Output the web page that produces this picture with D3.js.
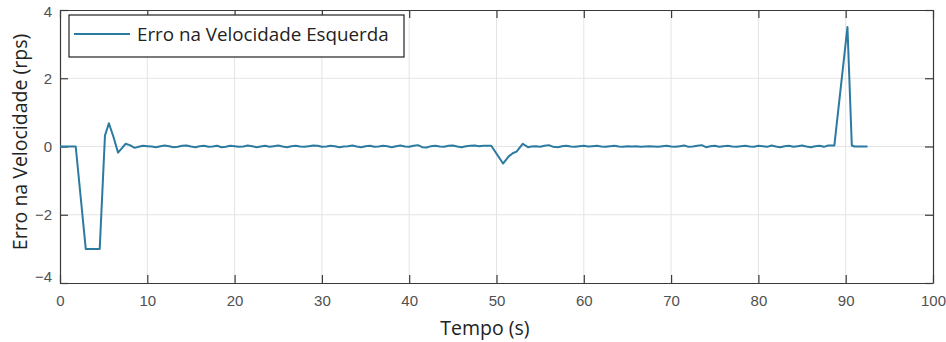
<!DOCTYPE html>
<html>
<head>
<meta charset="utf-8">
<script src="https://cdn.jsdelivr.net/npm/d3@7"></script>
<style>
  html, body { margin: 0; padding: 0; background: #fff; }
  svg { display: block; }
</style>
</head>
<body>
<svg id="chart" width="946" height="342"></svg>
<script>
// Sampled error of the left wheel speed: [time (s), error (rps)]
const amostras = [
  [0,0],[0.5,0],[1,0],[1.5,0],[1.8,0],[2.95,-3],[3.5,-3],[4,-3],[4.55,-3],
  [5.15,0.32],[5.6,0.68],[6.1,0.3],[6.65,-0.18],[7.1,-0.05],[7.5,0.08],[8,0.04],
  [8.55,-0.04],[9,-0.01],[9.5,0.02],
  [10,0.01],[10.5,0],[11,-0.02],[11.5,0.01],[12,0.03],[12.5,0.01],[13,-0.02],[13.5,-0.01],
  [14,0.02],[14.5,0.03],[15,0],[15.5,-0.02],[16,0.01],[16.5,0.02],[17,-0.01],[17.5,0],
  [18,0.02],[18.5,-0.02],[19,-0.01],[19.5,0.02],[20,0.01],[20.5,-0.01],[21,0],[21.5,0.03],
  [22,0.01],[22.5,-0.02],[23,0],[23.5,0.02],[24,-0.01],[24.5,0.01],[25,0.03],[25.5,0],
  [26,-0.02],[26.5,0.01],[27,0.02],[27.5,0],[28,-0.01],[28.5,0.01],[29,0.03],[29.5,0.02],
  [30,-0.01],[30.5,0],[31,0.02],[31.5,0.01],[32,-0.02],[32.5,0],[33,0.01],[33.5,0.03],
  [34,0],[34.5,-0.02],[35,0.01],[35.5,0.02],[36,-0.01],[36.5,0],[37,0.02],[37.5,0.01],
  [38,-0.02],[38.5,0.01],[39,0.03],[39.5,0],[40,-0.01],[40.5,0.02],[41,0.04],[41.5,-0.02],
  [42,-0.03],[42.5,0.01],[43,0.02],[43.5,0],[44,-0.01],[44.5,0.02],[45,0.03],[45.5,0],
  [46,-0.02],[46.5,0.01],[47,0.02],[47.5,0.03],[48,0.01],[48.5,0.02],[49,0.02],
  [49.4,0.02],[50.75,-0.5],[51.4,-0.29],[51.9,-0.19],[52.3,-0.15],[53,0.08],[53.6,-0.02],
  [54,0],[54.5,0.01],[55,-0.01],[55.5,0.02],[56,0.04],[56.5,-0.01],[57,-0.02],[57.5,0.01],
  [58,0.02],[58.5,0],[59,-0.01],[59.5,0.01],[60,0.02],[60.5,0],[61,0.01],[61.5,0.02],
  [62,0],[62.5,-0.01],[63,0.01],[63.5,0.02],[64,0],[64.5,-0.01],[65,0.01],[65.5,0],
  [66,0.01],[66.5,-0.01],[67,0],[67.5,0.01],[68,0],[68.5,-0.01],[69,0.01],[69.5,0.02],
  [70,0],[70.5,-0.01],[71,0.01],[71.5,0.03],[72,-0.01],[72.5,0],[73,0.02],[73.5,0.04],
  [74,-0.02],[74.5,0.01],[75,0.02],[75.5,-0.01],[76,0.01],[76.5,0.02],[77,0],[77.5,-0.01],
  [78,0.01],[78.5,0.02],[79,0],[79.5,-0.01],[80,0.02],[80.5,0.01],[81,-0.01],[81.5,0.03],
  [82,0],[82.5,-0.02],[83,0.01],[83.5,0.02],[84,-0.01],[84.5,0.01],[85,0.03],[85.5,0],
  [86,-0.02],[86.5,0.01],[87,0.02],[87.5,-0.01],[88,0.03],[88.7,0.03],
  [90.2,3.5],[90.7,0.03],[91,0],[91.5,0],[92,0],[92.5,0]
];

const xTicks = [0, 10, 20, 30, 40, 50, 60, 70, 80, 90, 100];
const yTicks = [-4, -2, 0, 2, 4];
const xDominio = [0, 100];
const yDominio = [-4, 4];

const tituloX = "Tempo (s)";
const tituloY = "Erro na Velocidade (rps)";
const legenda = "Erro na Velocidade Esquerda";

const margem = { top: 10, right: 13, bottom: 59, left: 60 };
const largura = 946, altura = 342;
const w = largura - margem.left - margem.right;
const h = altura - margem.top - margem.bottom;

const svg = d3.select("#chart");
const g = svg.append("g").attr("transform", `translate(${margem.left},${margem.top})`);

const x = d3.scaleLinear().domain(xDominio).range([0, w]);
const y = d3.scaleLinear().domain(yDominio).range([h, 0]);

const corEixo = "#3a3a3a";
const corTexto = "#505050";
const fonteTicks = "'Liberation Sans', Arial, sans-serif";
const fonteTitulos = "'Open Sans', 'Noto Sans', sans-serif";

// Grid
g.append("g")
  .selectAll("line")
  .data(xTicks.slice(1, -1))
  .join("line")
  .attr("x1", d => x(d)).attr("x2", d => x(d))
  .attr("y1", 0).attr("y2", h)
  .attr("stroke", "#e4e4e4").attr("stroke-width", 1);
g.append("g")
  .selectAll("line")
  .data(yTicks.slice(1, -1))
  .join("line")
  .attr("x1", 0).attr("x2", w)
  .attr("y1", d => y(d)).attr("y2", d => y(d))
  .attr("stroke", "#e4e4e4").attr("stroke-width", 1);

// Axes (box with inward ticks)
const tickLen = 8;
function estilo(sel) {
  sel.select(".domain").attr("stroke", corEixo).attr("stroke-width", 1.2);
  sel.selectAll(".tick line").attr("stroke", corEixo).attr("stroke-width", 1.2);
  sel.selectAll(".tick text").attr("fill", corTexto)
    .style("font-family", fonteTicks).style("font-size", "15px");
}

const eixoX = g.append("g").attr("transform", `translate(0,${h})`)
  .call(d3.axisBottom(x).tickValues(xTicks).tickSizeInner(-tickLen).tickSizeOuter(0).tickPadding(14))
  .call(estilo);
eixoX.selectAll(".tick text").attr("dy", "0.6em");

g.append("g")
  .call(d3.axisTop(x).tickValues(xTicks).tickSizeInner(-tickLen).tickSizeOuter(0).tickFormat(""))
  .call(estilo);

const eixoY = g.append("g")
  .call(d3.axisLeft(y).tickValues(yTicks).tickSizeInner(-tickLen).tickSizeOuter(0).tickPadding(8))
  .call(estilo);
eixoY.selectAll(".tick text").attr("dy", d => d === -4 ? "-0.1em" : (d === 4 ? "0.45em" : "0.32em"));

g.append("g").attr("transform", `translate(${w},0)`)
  .call(d3.axisRight(y).tickValues(yTicks).tickSizeInner(-tickLen).tickSizeOuter(0).tickFormat(""))
  .call(estilo);

// Series line
const linha = d3.line().x(d => x(d[0])).y(d => y(d[1]));
g.append("path")
  .datum(amostras)
  .attr("fill", "none")
  .attr("stroke", "#2b7aa0")
  .attr("stroke-width", 2)
  .attr("stroke-linejoin", "round")
  .attr("d", linha);

// Axis titles
svg.append("text")
  .attr("x", 485)
  .attr("y", 335)
  .attr("text-anchor", "middle")
  .attr("fill", "#222")
  .style("font-family", fonteTitulos)
  .style("font-size", "19.5px")
  .text(tituloX);

svg.append("text")
  .attr("transform", "translate(27,142) rotate(-90)")
  .attr("text-anchor", "middle")
  .attr("fill", "#222")
  .style("font-family", fonteTitulos)
  .style("font-size", "19.5px")
  .text(tituloY);

// Legend
const leg = svg.append("g").attr("transform", "translate(69,15)");
leg.append("rect")
  .attr("width", 335).attr("height", 42)
  .attr("fill", "#fff").attr("stroke", "#222").attr("stroke-width", 1.2);
leg.append("line")
  .attr("x1", 5).attr("x2", 61).attr("y1", 19).attr("y2", 19)
  .attr("stroke", "#2b7aa0").attr("stroke-width", 2);
leg.append("text")
  .attr("x", 68).attr("y", 26)
  .attr("fill", "#222")
  .style("font-family", fonteTitulos)
  .style("font-size", "18.8px")
  .text(legenda);
</script>
</body>
</html>
